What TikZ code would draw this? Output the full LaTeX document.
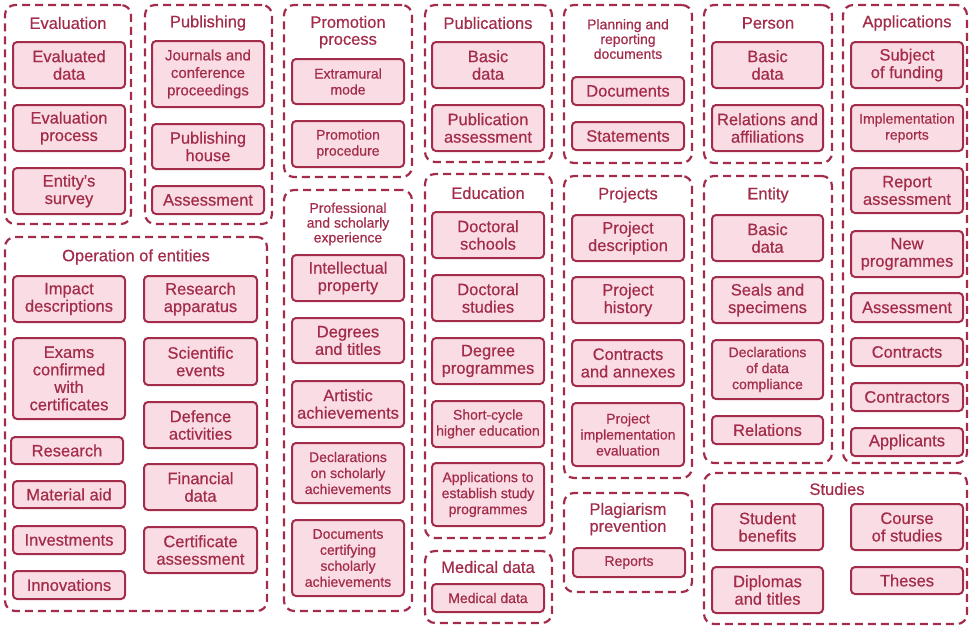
\documentclass[tikz,border=0pt]{standalone}
\usepackage{fontspec}
\setmainfont{Liberation Sans}[FakeBold=0.6]
\definecolor{wine}{RGB}{163,44,75}
\definecolor{blush}{RGB}{250,221,228}
\tikzset{
  grp/.style={draw=wine, line width=2.2pt, dash pattern=on 8pt off 5pt,
    rounded corners=10pt, inner sep=0pt},
  card/.style={draw=wine, fill=blush, line width=2pt, rounded corners=4pt,
    text=wine, align=center, inner sep=1pt,
    font=\fontsize{16.5}{17.5}\selectfont},
  cardmd/.style={card, font=\fontsize{15}{17.5}\selectfont},
  cardsm/.style={card, font=\fontsize{14}{16}\selectfont},
  ttl/.style={text=wine, align=center, inner sep=0pt,
    font=\fontsize{16.5}{17}\selectfont},
  ttlsm/.style={ttl, font=\fontsize{14}{14.8}\selectfont},
}
% \cardat{style}{name}{x1}{y1}{x2}{y2}{text}
\newcommand\cardat[7]{\node[#1, minimum width={#5pt-#3pt}, minimum height={#6pt-#4pt}]
  (#2) at ({(#3+#5)/2},{(#4+#6)/2}) {#7};}
% \grpat{name}{x1}{y1}{x2}{y2}
\newcommand\grpat[5]{\node[grp, minimum width={#4pt-#2pt}, minimum height={#5pt-#3pt}]
  (#1) at ({(#2+#4)/2},{(#3+#5)/2}) {};}
\begin{document}
\begin{tikzpicture}[x=1pt,y=-1pt]
\useasboundingbox (0,0) rectangle (970,625);

% Evaluation
\grpat{gEval}{5}{5}{131}{224}
\node[ttl] (tEval) at (68,23) {Evaluation};
\cardat{card}{evdata}{13}{42}{125}{88}{Evaluated\\data}
\cardat{card}{evproc}{13}{105}{125}{151}{Evaluation\\process}
\cardat{card}{evsurv}{13}{168}{125}{214}{Entity\textquotesingle s\\survey}

% Publishing
\grpat{gPubl}{145}{5}{272}{224}
\node[ttl] (tPubl) at (208,23) {Publishing};
\cardat{cardmd}{journ}{152}{41}{264}{107}{Journals and\\conference\\proceedings}
\cardat{card}{pubhouse}{152}{124}{264}{169}{Publishing\\house}
\cardat{card}{pubass}{152}{186}{264}{214}{Assessment}

% Promotion process
\grpat{gProm}{284}{5}{412}{177}
\node[ttl] (tProm) at (348,32) {Promotion\\process};
\cardat{cardsm}{extra}{292}{59}{404}{104}{Extramural\\mode}
\cardat{cardsm}{proced}{292}{121}{404}{167}{Promotion\\procedure}

% Publications
\grpat{gPubs}{425}{5}{552}{162}
\node[ttl] (tPubs) at (488,23) {Publications};
\cardat{card}{pbasic}{432}{42}{544}{88}{Basic\\data}
\cardat{card}{pbass}{432}{105}{544}{151}{Publication\\assessment}

% Planning and reporting documents
\grpat{gPlan}{564}{5}{692}{163}
\node[ttlsm] (tPlan) at (628,39) {Planning and\\reporting\\documents};
\cardat{card}{docs}{572}{77}{684}{105}{Documents}
\cardat{card}{stmt}{572}{122}{684}{150}{Statements}

% Person
\grpat{gPers}{704}{5}{832}{163}
\node[ttl] (tPers) at (768,23) {Person};
\cardat{card}{perbasic}{712}{42}{823}{88}{Basic\\data}
\cardat{card}{perrel}{712}{105}{823}{151}{Relations and\\affiliations}

% Applications
\grpat{gAppl}{843}{5}{967}{463}
\node[ttl] (tAppl) at (907,23) {Applications};
\cardat{card}{subj}{851}{42}{963}{88}{Subject\\of funding}
\cardat{cardsm}{impl}{851}{105}{963}{151}{Implementation\\reports}
\cardat{card}{repass}{851}{168}{963}{213}{Report\\assessment}
\cardat{card}{newprog}{851}{231}{963}{277}{New\\programmes}
\cardat{card}{appass}{851}{293}{963}{322}{Assessment}
\cardat{card}{contr}{851}{338}{963}{366}{Contracts}
\cardat{card}{contrs}{851}{383}{963}{411}{Contractors}
\cardat{card}{applic}{851}{428}{963}{456}{Applicants}

% Operation of entities
\grpat{gOper}{5}{237}{267}{611}
\node[ttl] (tOper) at (136,257) {Operation of entities};
\cardat{card}{impact}{13}{276}{125}{322}{Impact\\descriptions}
\cardat{card}{exams}{13}{338}{125}{419}{Exams\\confirmed\\with\\certificates}
\cardat{card}{research}{11}{437}{123}{464}{Research}
\cardat{card}{material}{13}{481}{125}{508}{Material aid}
\cardat{card}{invest}{13}{526}{125}{554}{Investments}
\cardat{card}{innov}{13}{571}{125}{599}{Innovations}
\cardat{card}{rapp}{144}{276}{257}{322}{Research\\apparatus}
\cardat{card}{scev}{144}{338}{257}{385}{Scientific\\events}
\cardat{card}{defence}{144}{402}{257}{448}{Defence\\activities}
\cardat{card}{findata}{144}{464}{257}{510}{Financial\\data}
\cardat{card}{certass}{144}{527}{257}{573}{Certificate\\assessment}

% Professional and scholarly experience
\grpat{gProf}{284}{190}{412}{611}
\node[ttlsm] (tProf) at (348,224) {Professional\\and scholarly\\experience};
\cardat{card}{intel}{292}{255}{404}{301}{Intellectual\\property}
\cardat{card}{degt}{292}{318}{404}{363}{Degrees\\and titles}
\cardat{card}{artist}{292}{381}{404}{427}{Artistic\\achievements}
\cardat{cardsm}{declsch}{292}{443}{404}{503}{Declarations\\on scholarly\\achievements}
\cardat{cardsm}{doccert}{292}{520}{404}{596}{Documents\\certifying\\scholarly\\achievements}

% Education
\grpat{gEduc}{425}{174}{552}{538}
\node[ttl] (tEduc) at (488,193) {Education};
\cardat{card}{docsch}{432}{212}{544}{258}{Doctoral\\schools}
\cardat{card}{docstud}{432}{275}{544}{321}{Doctoral\\studies}
\cardat{card}{degprog}{432}{338}{544}{384}{Degree\\programmes}
\cardat{cardsm}{shortc}{432}{401}{544}{447}{Short-cycle\\higher education}
\cardat{cardsm}{appest}{432}{463}{544}{526}{Applications to\\establish study\\programmes}

% Medical data
\grpat{gMed}{425}{551}{552}{623}
\node[ttl] (tMed) at (488,567) {Medical data};
\cardat{cardsm}{med}{432}{584}{544}{612}{Medical data}

% Projects
\grpat{gProj}{564}{176}{692}{478}
\node[ttl] (tProj) at (628,195) {Projects};
\cardat{card}{pdesc}{572}{215}{684}{261}{Project\\description}
\cardat{card}{phist}{572}{277}{684}{323}{Project\\history}
\cardat{card}{pcontr}{572}{340}{684}{386}{Contracts\\and annexes}
\cardat{cardsm}{pimpl}{572}{403}{684}{466}{Project\\implementation\\evaluation}

% Plagiarism prevention
\grpat{gPlag}{564}{493}{692}{592}
\node[ttl] (tPlag) at (628,519) {Plagiarism\\prevention};
\cardat{cardsm}{reports}{573}{548}{685}{577}{Reports}

% Entity
\grpat{gEnt}{704}{176}{832}{463}
\node[ttl] (tEnt) at (768,195) {Entity};
\cardat{card}{ebasic}{712}{215}{823}{261}{Basic\\data}
\cardat{card}{seals}{712}{277}{823}{323}{Seals and\\specimens}
\cardat{cardsm}{edecl}{712}{340}{823}{399}{Declarations\\of data\\compliance}
\cardat{card}{erel}{712}{416}{823}{444}{Relations}

% Studies
\grpat{gStud}{704}{473}{967}{624}
\node[ttl] (tStud) at (837,489) {Studies};
\cardat{card}{stben}{712}{504}{823}{550}{Student\\benefits}
\cardat{card}{course}{851}{504}{963}{550}{Course\\of studies}
\cardat{card}{dipl}{712}{567}{823}{613}{Diplomas\\and titles}
\cardat{card}{theses}{851}{567}{963}{594}{Theses}
\end{tikzpicture}
\end{document}
